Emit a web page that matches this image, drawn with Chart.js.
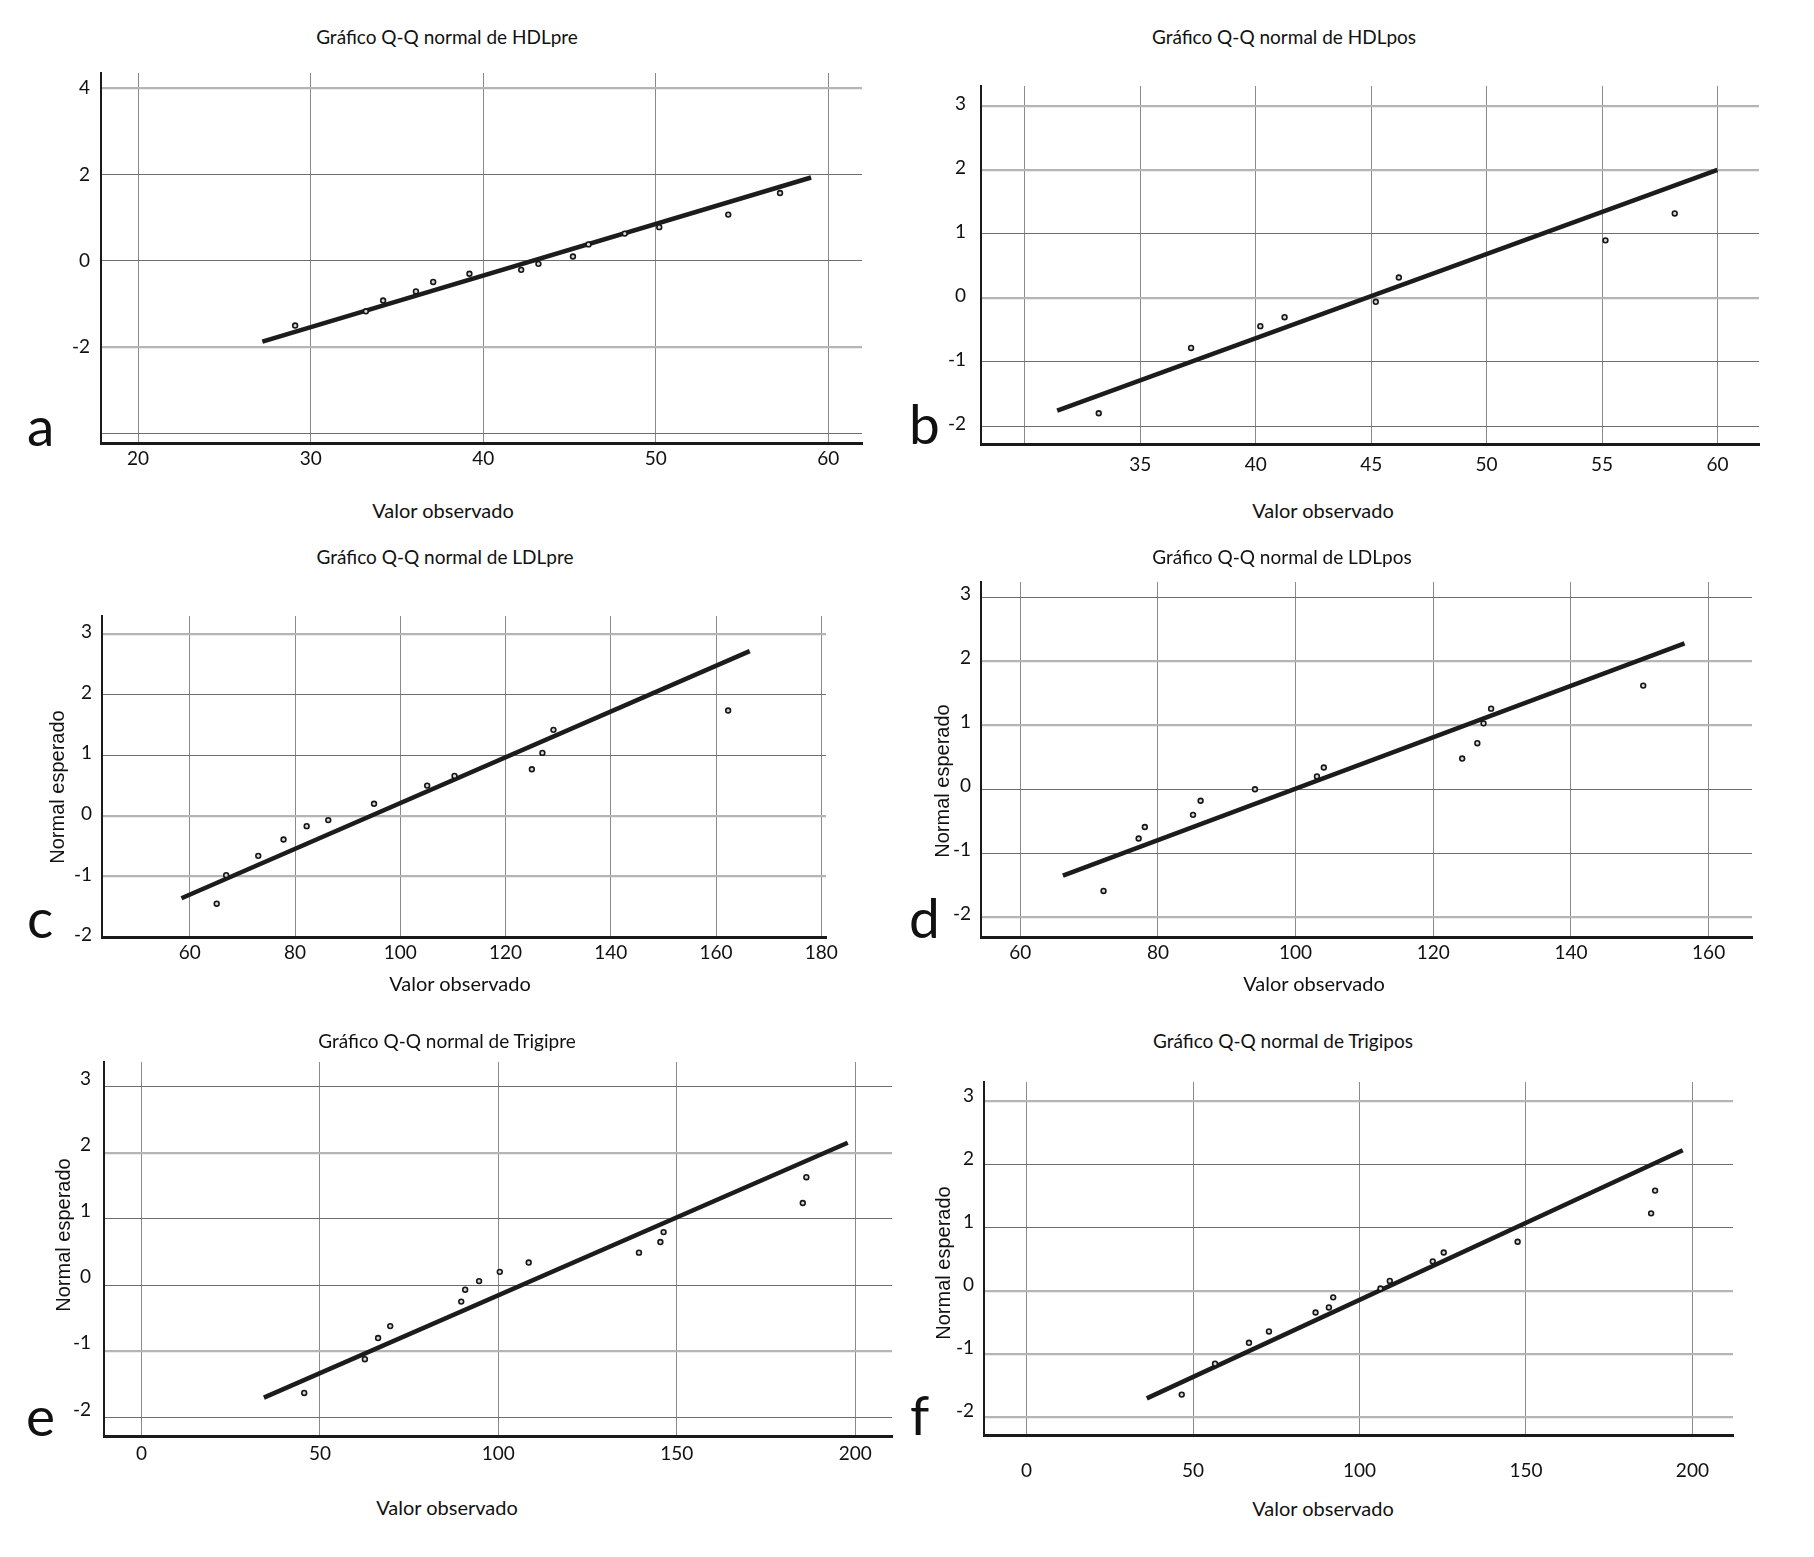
<!DOCTYPE html>
<html>
<head>
<meta charset="utf-8">
<script src="https://cdn.jsdelivr.net/npm/chart.js@4.4.1/dist/chart.umd.min.js"></script>
<style>
  html, body { margin: 0; padding: 0; background: #fff; }
  #page { position: relative; width: 1814px; height: 1557px; overflow: hidden; }
  .box { position: absolute; }
  .txt { position: absolute; transform: translate(-50%, -50%); white-space: nowrap; line-height: 1; color: #111; }
  .title { font-family: Lato, 'Noto Sans', sans-serif; font-size: 19px; }
  .xname { font-family: Lato, 'Noto Sans', sans-serif; font-size: 20px; }
  .yname { font-family: 'Liberation Sans', Arial, sans-serif; font-size: 20px; transform: translate(-50%, -50%) rotate(-90deg); }
  .letter { position: absolute; font-family: Lato, 'Noto Sans', sans-serif; font-size: 55px; line-height: 1; color: #111; }
</style>
</head>
<body>
<div id="page"></div>
<script>
// Observed value / expected normal value for each panel, plus the reference line ends
const hdlPreObs = [29.1, 33.2, 34.2, 36.1, 37.1, 39.2, 42.2, 43.2, 45.2, 46.1, 48.2, 50.2, 54.2, 57.2];
const hdlPreExp = [-1.50, -1.17, -0.92, -0.71, -0.49, -0.30, -0.21, -0.07, 0.10, 0.38, 0.63, 0.78, 1.07, 1.57];
const hdlPreLineX = [27.2, 59.0];
const hdlPreLineY = [-1.87, 1.93];

const hdlPosObs = [33.2, 37.2, 40.2, 41.25, 45.2, 46.2, 55.15, 58.15];
const hdlPosExp = [-1.80, -0.78, -0.44, -0.30, -0.06, 0.32, 0.90, 1.32];
const hdlPosLineX = [31.4, 60.0];
const hdlPosLineY = [-1.76, 2.0];

const ldlPreObs = [65.1, 66.9, 73.0, 77.8, 82.2, 86.3, 95.0, 105.1, 110.3, 125.0, 127.0, 129.1, 162.3];
const ldlPreExp = [-1.45, -0.98, -0.66, -0.39, -0.17, -0.07, 0.20, 0.50, 0.66, 0.77, 1.04, 1.42, 1.74];
const ldlPreLineX = [58.4, 166.4];
const ldlPreLineY = [-1.36, 2.72];

const ldlPosObs = [72.1, 77.2, 78.1, 85.1, 86.2, 94.1, 103.1, 104.1, 124.2, 126.4, 127.3, 128.4, 150.5];
const ldlPosExp = [-1.59, -0.77, -0.59, -0.40, -0.18, 0.00, 0.20, 0.34, 0.48, 0.72, 1.03, 1.26, 1.62];
const ldlPosLineX = [66.2, 156.5];
const ldlPosLineY = [-1.35, 2.28];

const trigPreObs = [45.6, 62.6, 66.3, 69.7, 89.6, 90.7, 94.6, 100.4, 108.5, 139.4, 145.4, 146.3, 185.3, 186.3];
const trigPreExp = [-1.63, -1.12, -0.80, -0.62, -0.25, -0.07, 0.06, 0.20, 0.34, 0.49, 0.65, 0.80, 1.24, 1.63];
const trigPreLineX = [34.3, 197.9];
const trigPreLineY = [-1.70, 2.15];

const trigPosObs = [46.6, 56.6, 66.8, 72.8, 86.8, 90.8, 92.1, 106.3, 109.1, 122.0, 125.3, 147.5, 187.6, 188.8];
const trigPosExp = [-1.64, -1.15, -0.82, -0.64, -0.34, -0.26, -0.10, 0.04, 0.16, 0.47, 0.61, 0.78, 1.23, 1.59];
const trigPosLineX = [36.1, 197.1];
const trigPosLineY = [-1.70, 2.23];

// Tick labels that are printed on each axis
const hdlPreXTicks = [20, 30, 40, 50, 60];
const hdlPreYTicks = [-2, 0, 2, 4];
const hdlPosXTicks = [35, 40, 45, 50, 55, 60];
const hdlPosYTicks = [-2, -1, 0, 1, 2, 3];
const ldlPreXTicks = [60, 80, 100, 120, 140, 160, 180];
const ldlPreYTicks = [-2, -1, 0, 1, 2, 3];
const ldlPosXTicks = [60, 80, 100, 120, 140, 160];
const ldlPosYTicks = [-2, -1, 0, 1, 2, 3];
const trigPreXTicks = [0, 50, 100, 150, 200];
const trigPreYTicks = [-2, -1, 0, 1, 2, 3];
const trigPosXTicks = [0, 50, 100, 150, 200];
const trigPosYTicks = [-2, -1, 0, 1, 2, 3];

const panels = [
  { letter: 'a', title: 'Gráfico Q-Q normal de HDLpre', obs: hdlPreObs, exp: hdlPreExp, lx: hdlPreLineX, ly: hdlPreLineY,
    xt: hdlPreXTicks, yt: hdlPreYTicks, area: [101, 862, 73, 443], xr: [17.85, 61.95, 10], yr: [-4.22, 4.35, 2],
    light: [4, -2], lift: 0, ypad: 11, xpad: 4, yname: false,
    titleAt: [447, 36], xnameAt: [443, 510], letterAt: [27, 445] },
  { letter: 'b', title: 'Gráfico Q-Q normal de HDLpos', obs: hdlPosObs, exp: hdlPosExp, lx: hdlPosLineX, ly: hdlPosLineY,
    xt: hdlPosXTicks, yt: hdlPosYTicks, area: [981, 1759, 86, 444], xr: [28.1, 61.8, 5], yr: [-2.28, 3.31, 1],
    light: [3, 2, 0], lift: -2, ypad: 15, xpad: 9, yname: false,
    titleAt: [1284, 36], xnameAt: [1323, 510], letterAt: [909, 443] },
  { letter: 'c', title: 'Gráfico Q-Q normal de LDLpre', obs: ldlPreObs, exp: ldlPreExp, lx: ldlPreLineX, ly: ldlPreLineY,
    xt: ldlPreXTicks, yt: ldlPreYTicks, area: [102, 826, 616, 937], xr: [43.3, 180.9, 20], yr: [-2, 3.3, 1],
    light: [3, 0, -1], lift: -2, ypad: 10, xpad: 4, yname: [57, 787],
    titleAt: [445, 556], xnameAt: [460, 983], letterAt: [27, 937] },
  { letter: 'd', title: 'Gráfico Q-Q normal de LDLpos', obs: ldlPosObs, exp: ldlPosExp, lx: ldlPosLineX, ly: ldlPosLineY,
    xt: ldlPosXTicks, yt: ldlPosYTicks, area: [981, 1752, 582, 937], xr: [54.3, 166.3, 20], yr: [-2.31, 3.24, 1],
    light: [2, 1, -2], lift: -3, ypad: 10, xpad: 4, yname: [942, 781],
    titleAt: [1282, 556], xnameAt: [1314, 983], letterAt: [909, 937] },
  { letter: 'e', title: 'Gráfico Q-Q normal de Trigipre', obs: trigPreObs, exp: trigPreExp, lx: trigPreLineX, ly: trigPreLineY,
    xt: trigPreXTicks, yt: trigPreYTicks, area: [104, 892, 1062, 1436], xr: [-10.5, 210.3, 50], yr: [-2.28, 3.37, 1],
    light: [2, -1], lift: -8, ypad: 13, xpad: 6, yname: [63, 1235],
    titleAt: [447, 1040], xnameAt: [447, 1507], letterAt: [26, 1435] },
  { letter: 'f', title: 'Gráfico Q-Q normal de Trigipos', obs: trigPosObs, exp: trigPosExp, lx: trigPosLineX, ly: trigPosLineY,
    xt: trigPosXTicks, yt: trigPosYTicks, area: [984, 1733, 1082, 1435], xr: [-12.8, 212.2, 50], yr: [-2.28, 3.31, 1],
    light: [3, 0, -1, -2], lift: -6, ypad: 10, xpad: 24, yname: [943, 1263],
    titleAt: [1283, 1040], xnameAt: [1323, 1508], letterAt: [910, 1434] }
];

const page = document.getElementById('page');
const Y_W = 80, X_H = 50, PAD_T = 20, PAD_R = 30;

Chart.defaults.font.family = "Lato, 'Noto Sans', sans-serif";
Chart.defaults.font.size = 19;
Chart.defaults.color = '#111';

function addText(cls, text, at) {
  const d = document.createElement('div');
  d.className = 'txt ' + cls;
  d.textContent = text;
  d.style.left = at[0] + 'px';
  d.style.top = at[1] + 'px';
  page.appendChild(d);
}

panels.forEach(function(p) {
  const [l, r, t, b] = p.area;
  const box = document.createElement('div');
  box.className = 'box';
  box.style.left = (l - Y_W) + 'px';
  box.style.top = (t - PAD_T) + 'px';
  box.style.width = (r - l + Y_W + PAD_R) + 'px';
  box.style.height = (b - t + PAD_T + X_H) + 'px';
  const canvas = document.createElement('canvas');
  box.appendChild(canvas);
  page.appendChild(box);

  addText('title', p.title, p.titleAt);
  addText('xname', 'Valor observado', p.xnameAt);
  if (p.yname) addText('yname', 'Normal esperado', p.yname);

  const tag = document.createElement('div');
  tag.className = 'letter';
  tag.textContent = p.letter;
  tag.style.left = p.letterAt[0] + 'px';
  tag.style.top = (p.letterAt[1] - 47) + 'px';
  page.appendChild(tag);

  new Chart(canvas.getContext('2d'), {
    type: 'scatter',
    data: {
      datasets: [{
        data: p.obs.map((v, i) => ({ x: v, y: p.exp[i] })),
        pointRadius: 2.4,
        pointBorderWidth: 1.6,
        borderColor: '#161616',
        backgroundColor: '#d8d8d8',
        showLine: false
      }, {
        data: p.lx.map((v, i) => ({ x: v, y: p.ly[i] })),
        showLine: true,
        pointRadius: 0,
        borderWidth: 4.5,
        borderColor: '#1c1c1c',
        borderCapStyle: 'butt'
      }]
    },
    options: {
      responsive: true,
      maintainAspectRatio: false,
      animation: false,
      layout: { padding: { top: PAD_T, right: PAD_R, left: 0, bottom: 0 } },
      plugins: { legend: { display: false }, tooltip: { enabled: false } },
      scales: {
        x: {
          type: 'linear',
          min: p.xr[0], max: p.xr[1],
          afterFit: function(s) { s.height = X_H; s.paddingLeft = 0; s.paddingRight = 0; },
          border: { display: true, color: '#1a1a1a', width: 3 },
          grid: { color: '#8a8a8a', lineWidth: 1, drawTicks: false },
          ticks: {
            stepSize: p.xr[2], includeBounds: false, autoSkip: false, maxRotation: 0,
            padding: p.xpad,
            callback: (v) => p.xt.includes(v) ? String(v) : ''
          }
        },
        y: {
          type: 'linear',
          min: p.yr[0], max: p.yr[1],
          afterFit: function(s) { s.width = Y_W; s.paddingTop = 0; s.paddingBottom = 0; },
          border: { display: true, color: '#1a1a1a', width: 2 },
          grid: {
            drawTicks: false,
            color: (c) => c.tick && p.light.includes(c.tick.value) ? '#b5b5b5' : '#6e6e6e',
            lineWidth: (c) => c.tick && p.light.includes(c.tick.value) ? 2.2 : 1.1
          },
          ticks: {
            stepSize: p.yr[2], includeBounds: false, autoSkip: false,
            padding: p.ypad, labelOffset: p.lift,
            callback: (v) => p.yt.includes(v) ? String(v) : ''
          }
        }
      }
    }
  });
});
</script>
</body>
</html>
